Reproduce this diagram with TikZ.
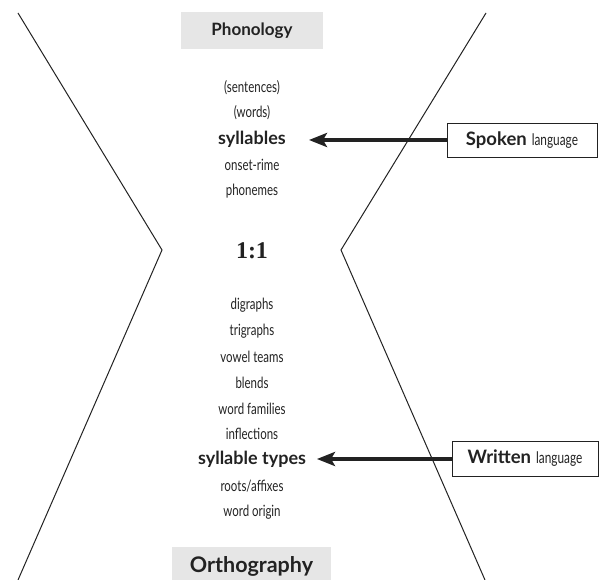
\documentclass[tikz,border=0pt]{standalone}
\usepackage{fontspec}
\setmainfont{Lato}
\newfontfamily\condf[FakeStretch=0.74]{Lato}
\newfontfamily\serifb{Liberation Serif}
\usetikzlibrary{arrows.meta}
\definecolor{boxgray}{HTML}{E6E6E6}
\definecolor{ink}{HTML}{222222}
\tikzset{
  item/.style={font=\condf\fontsize{15.5}{16}\selectfont, text=ink, inner sep=0pt},
  keyitem/.style={font=\bfseries\fontsize{18}{19}\selectfont, text=ink, inner sep=0pt},
  headbox/.style={fill=boxgray, text=ink, inner sep=0pt},
  labelbox/.style={draw=ink, line width=0.8pt, fill=white, text=ink, inner sep=0pt},
  bigarrow/.style={draw=ink, line width=3.5pt, -{Stealth[length=18pt,width=14pt,inset=4pt]}},
  outline/.style={draw=ink, line width=1pt}
}
\begin{document}
\begin{tikzpicture}[x=1pt,y=-1pt]
\useasboundingbox (0,0) rectangle (606,580);
% hourglass outline
\draw[outline] (18,13) -- (162,250) -- (18,580);
\draw[outline] (486,13) -- (341,250) -- (485,580);
% heading boxes
\node[headbox, minimum width=142pt, minimum height=37pt, font=\bfseries\fontsize{17}{18}\selectfont] (phon) at (252,30.5) {Phonology};
\node[headbox, minimum width=159pt, minimum height=34pt, anchor=north] (orth) at (251.5,547) {};
\node[text=ink, font=\bfseries\fontsize{21.5}{23}\selectfont, inner sep=0pt] (orthtext) at (251.5,566) {Orthography};
% phonology items
\node[item] (sent) at (252,88) {(sentences)};
\node[item] (words) at (252,113) {(words)};
\node[keyitem] (syll) at (252,139) {syllables};
\node[item] (onset) at (252,165) {onset-rime};
\node[item] (phon2) at (252,191) {phonemes};
% ratio
\node[text=ink, font=\serifb\bfseries\fontsize{24}{26}\selectfont, inner sep=0pt] (ratio) at (252,251) {1:1};
% orthography items
\node[item] (dig) at (252,305) {digraphs};
\node[item] (trig) at (252,331) {trigraphs};
\node[item] (vow) at (252,357) {vowel teams};
\node[item] (blend) at (252,383) {blends};
\node[item] (fam) at (252,409) {word families};
\node[item] (infl) at (252,434) {inflections};
\node[keyitem] (stypes) at (252,459) {syllable types};
\node[item] (roots) at (252,486) {roots/affixes};
\node[item] (orig) at (252,512) {word origin};
% label boxes
\node[labelbox, minimum width=150pt, minimum height=34pt] (spoken) at (522,140) {{\bfseries\fontsize{18.5}{19}\selectfont Spoken}\hspace{5pt}{\condf\fontsize{16}{17}\selectfont language}};
\node[labelbox, minimum width=146pt, minimum height=35pt] (written) at (525,458.5) {{\bfseries\fontsize{18.5}{19}\selectfont Written}\hspace{5pt}{\condf\fontsize{16}{17}\selectfont language}};
% arrow tips
\coordinate (tipspoken) at (309,140);
\coordinate (tipwritten) at (317,459);
% arrows
\draw[bigarrow] (spoken.west) -- (tipspoken);
\draw[bigarrow] (written.west |- tipwritten) -- (tipwritten);
\end{tikzpicture}
\end{document}
